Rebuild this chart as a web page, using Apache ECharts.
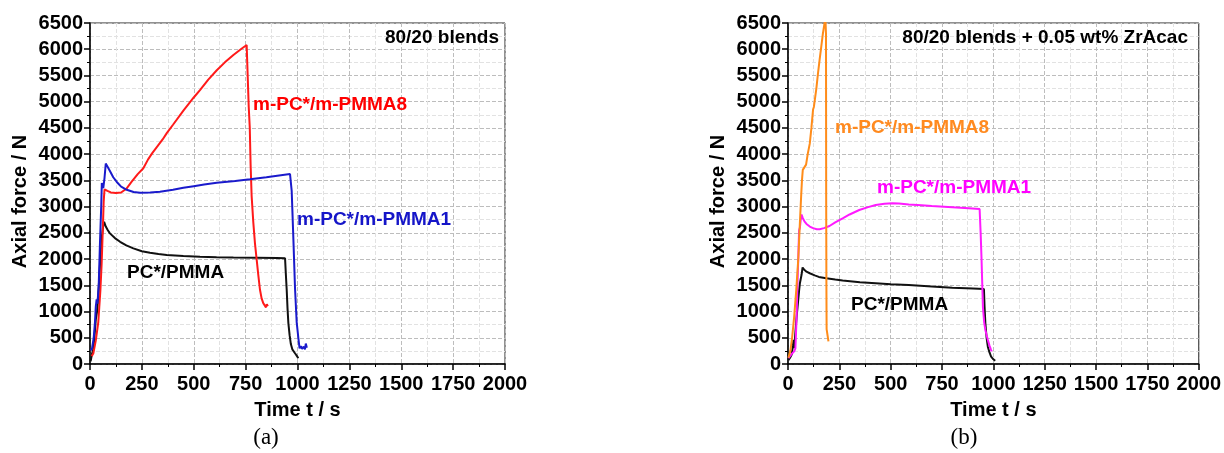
<!DOCTYPE html>
<html>
<head>
<meta charset="utf-8">
<script src="https://cdn.jsdelivr.net/npm/echarts@6/dist/echarts.min.js"></script>
<style>
html,body{margin:0;padding:0;background:#fff;}
#chart{width:1224px;height:453px;}
</style>
</head>
<body>
<div id="chart"></div>
<script>
// ---- data: [time s, axial force N] ----
const leftPMMA8 = [[8,150],[16,200],[28,450],[40,800],[50,1400],[56,1900],[62,2600],[66,3100],[70,3330],[76,3350],[84,3300],[100,3270],[125,3260],[150,3270],[175,3340],[200,3470],[230,3620],[257,3730],[280,3900],[300,4020],[321,4130],[350,4280],[370,4400],[400,4560],[450,4830],[500,5080],[530,5220],[570,5420],[611,5600],[650,5750],[691,5890],[730,6010],[755,6080],[760,6100],[765,4900],[770,4500],[774,3800],[779,3200],[787,2700],[795,2300],[803,2000],[811,1700],[819,1420],[827,1250],[835,1160],[843,1130],[848,1080],[852,1140],[857,1100]];
const leftPMMA1 = [[3,260],[10,300],[18,500],[24,800],[28,1100],[32,1230],[36,1150],[42,1500],[48,2300],[54,3000],[57,3450],[60,3480],[64,3350],[70,3550],[76,3820],[82,3780],[96,3680],[112,3560],[129,3470],[150,3380],[177,3320],[210,3280],[241,3265],[290,3270],[337,3285],[400,3320],[450,3360],[500,3390],[550,3420],[611,3455],[700,3490],[771,3520],[850,3560],[920,3600],[964,3620],[968,3630],[972,3300],[980,2400],[988,1450],[996,800],[1004,500],[1010,300],[1016,340],[1022,290],[1030,330],[1036,280],[1040,390],[1045,310]];
const leftPC = [[3,50],[10,200],[16,280],[22,550],[28,850],[34,1000],[40,1300],[46,1750],[52,2150],[58,2450],[64,2650],[68,2710],[76,2620],[86,2550],[96,2490],[120,2400],[145,2330],[175,2260],[209,2205],[250,2150],[289,2120],[330,2095],[370,2080],[450,2060],[530,2045],[610,2035],[691,2030],[800,2025],[900,2020],[940,2015],[944,1700],[948,1410],[952,1050],[956,780],[962,550],[968,380],[975,280],[988,205],[996,160],[1004,110]];

const rightPMMA8 = [[2,120],[12,260],[20,500],[30,900],[40,1400],[50,2000],[58,2700],[64,3200],[68,3500],[72,3700],[80,3720],[88,3800],[96,4000],[106,4200],[114,4500],[122,4850],[126,4900],[130,4920],[138,5250],[146,5540],[154,5800],[162,6050],[170,6300],[176,6450],[182,6600],[185,6300],[186,3000],[187,1500],[188,665],[195,660],[197,430]];
const rightPMMA1 = [[2,110],[10,150],[20,200],[30,240],[36,300],[42,900],[46,1500],[50,2000],[54,2550],[58,2600],[62,2750],[66,2850],[72,2780],[80,2720],[90,2670],[106,2620],[122,2590],[140,2570],[154,2570],[175,2590],[202,2630],[230,2700],[266,2775],[300,2850],[347,2935],[390,2990],[427,3030],[470,3055],[508,3065],[540,3060],[588,3040],[650,3025],[700,3010],[800,2990],[880,2970],[933,2955],[938,2500],[942,2045],[946,1500],[949,1090],[955,800],[961,650],[967,550],[973,460],[981,350],[989,265],[992,240]];
const rightPC = [[2,75],[10,120],[18,180],[24,350],[27,460],[30,300],[36,600],[42,900],[48,1150],[54,1400],[58,1540],[62,1560],[66,1700],[71,1840],[78,1800],[90,1760],[106,1730],[130,1690],[150,1660],[186,1635],[230,1610],[266,1590],[350,1560],[427,1540],[500,1520],[588,1505],[700,1475],[800,1455],[900,1440],[954,1430],[957,1100],[961,775],[967,500],[973,330],[981,220],[989,140],[1000,90],[1009,63]];

const xRange = [0, 2000];
const xStep = 250;
const yRange = [0, 6500];
const yStep = 500;

const FONT = '"Liberation Sans", Arial, sans-serif';
const plain = v => String(v);

function xAxisCfg(gi){
  return {
    type:'value', gridIndex:gi, min:xRange[0], max:xRange[1], interval:xStep,
    name:'Time t / s', nameLocation:'middle', nameGap:36,
    nameTextStyle:{fontFamily:FONT, fontWeight:'bold', fontSize:20, color:'#000'},
    axisLine:{show:true, onZero:false, lineStyle:{color:'#000', width:1.5}},
    axisTick:{show:true, inside:false, length:6, lineStyle:{color:'#000', width:1.5}},
    minorTick:{show:true, splitNumber:2, length:3, lineStyle:{color:'#000', width:1}},
    axisLabel:{fontFamily:FONT, fontWeight:'bold', fontSize:20, color:'#000', margin:10, formatter:plain},
    splitLine:{show:true, lineStyle:{color:'#bdbdbd', type:[4,2], width:1}},
    minorSplitLine:{show:true, lineStyle:{color:'#e2e2e2', type:[4,2], width:1}}
  };
}
function yAxisCfg(gi){
  return {
    type:'value', gridIndex:gi, min:yRange[0], max:yRange[1], interval:yStep,
    name:'Axial force / N', nameLocation:'middle', nameGap:60,
    nameTextStyle:{fontFamily:FONT, fontWeight:'bold', fontSize:20, color:'#000', padding:[0,16,0,0]},
    axisLine:{show:true, onZero:false, lineStyle:{color:'#000', width:1.5}},
    axisTick:{show:true, inside:false, length:6, lineStyle:{color:'#000', width:1.5}},
    minorTick:{show:true, splitNumber:2, length:3, lineStyle:{color:'#000', width:1}},
    axisLabel:{fontFamily:FONT, fontWeight:'bold', fontSize:20, color:'#000', margin:7, formatter:plain},
    splitLine:{show:true, lineStyle:{color:'#bdbdbd', type:[4,2], width:1}},
    minorSplitLine:{show:true, lineStyle:{color:'#e2e2e2', type:[4,2], width:1}}
  };
}
function lineSeries(data, color, xi){
  return {type:'line', xAxisIndex:xi, yAxisIndex:xi, data:data, showSymbol:false, symbol:'none',
    clip:true, smooth:false, lineStyle:{color:color, width:2}, itemStyle:{color:color}, z:3, animation:false};
}
function txt(x, y, text, color, align, size, weight, family){
  return {type:'text', x:x, y:y, z:10, style:{text:text, fill:color,
    font:(weight||'bold')+' '+(size||19)+'px '+(family||FONT), align:align||'left', verticalAlign:'middle'}};
}

const chart = echarts.init(document.getElementById('chart'), null, {renderer:'canvas'});
chart.setOption({
  animation:false,
  backgroundColor:'#fff',
  grid:[
    {left:90, top:23, width:415, height:341, show:true, borderColor:'#222', borderWidth:1},
    {left:788, top:23, width:415, height:341, show:true, borderColor:'#222', borderWidth:1}
  ],
  xAxis:[xAxisCfg(0), xAxisCfg(1)],
  yAxis:[yAxisCfg(0), yAxisCfg(1)],
  series:[
    lineSeries(leftPC, '#111111', 0),
    lineSeries(leftPMMA8, '#ff1a1a', 0),
    lineSeries(leftPMMA1, '#1a1acc', 0),
    lineSeries(rightPC, '#111111', 1),
    lineSeries(rightPMMA1, '#ff1aff', 1),
    lineSeries(rightPMMA8, '#ff8c1a', 1)
  ],
  graphic:[
    txt(499, 38, '80/20 blends', '#000', 'right'),
    txt(253, 105, 'm-PC*/m-PMMA8', '#ff0000', 'left'),
    txt(297, 220, 'm-PC*/m-PMMA1', '#1515c8', 'left'),
    txt(127, 273, 'PC*/PMMA', '#000', 'left'),
    txt(1188, 38, '80/20 blends + 0.05 wt% ZrAcac', '#000', 'right'),
    txt(835, 128, 'm-PC*/m-PMMA8', '#ff8a1f', 'left'),
    txt(877, 188, 'm-PC*/m-PMMA1', '#ff00ff', 'left'),
    txt(851, 305, 'PC*/PMMA', '#000', 'left'),
    txt(266, 438, '(a)', '#000', 'center', 23, 'normal', '"Liberation Serif", "DejaVu Serif", serif'),
    txt(964, 438, '(b)', '#000', 'center', 23, 'normal', '"Liberation Serif", "DejaVu Serif", serif')
  ]
});
</script>
</body>
</html>
